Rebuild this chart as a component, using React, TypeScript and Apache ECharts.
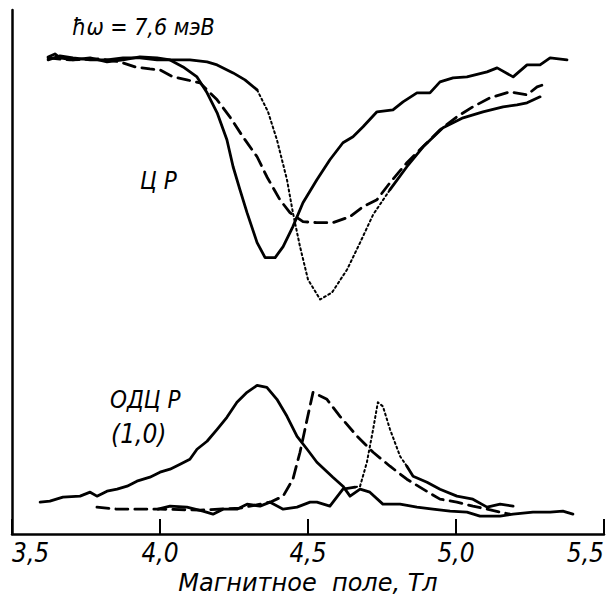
import React, { useEffect, useRef } from "react";
import * as echarts from "echarts";

// x: magnetic field, T ; y: signal, arbitrary units
const xTicks = [3.5, 4.0, 4.5, 5.0, 5.5];

// ---- ЦР (upper group) ----
const crSolid: [number, number][] = [
  [3.622, 95.6], [3.645, 96.2], [3.662, 95.4], [3.706, 95], [3.764, 95.4], [3.821, 94.6],
  [3.875, 95], [3.932, 95.6], [3.99, 95.4], [4.034, 95], [4.078, 93.6], [4.125, 91.6],
  [4.159, 88.4], [4.193, 84.4], [4.226, 79], [4.247, 73.6], [4.27, 69], [4.294, 64.4],
  [4.328, 58.4], [4.355, 55.4], [4.389, 55.4], [4.416, 57.6], [4.449, 61.6], [4.483, 66.4],
  [4.53, 71], [4.574, 75], [4.618, 78.4], [4.652, 79.6], [4.686, 81.6], [4.733, 84.6],
  [4.787, 85], [4.821, 86.6], [4.868, 88.4], [4.912, 88.4], [4.946, 90.6], [4.99, 91.4],
  [5.037, 91.6], [5.105, 92.6], [5.139, 93.4], [5.193, 91.6], [5.24, 94], [5.284, 94],
  [5.318, 95.4], [5.375, 95],
];

const crDashed: [number, number][] = [
  [3.622, 95.4], [3.696, 95], [3.797, 95.2], [3.865, 94.6], [3.916, 93.6], [3.966, 93.2],
  [4.0, 93], [4.044, 91.6], [4.091, 91], [4.135, 90.4], [4.193, 87], [4.236, 83.6],
  [4.28, 79.6], [4.328, 75.6], [4.361, 71.6], [4.405, 67], [4.439, 64.4], [4.483, 62.6],
  [4.53, 62.4], [4.584, 62.4], [4.642, 63.6], [4.686, 65.6], [4.733, 67], [4.777, 70.4],
  [4.834, 74.4], [4.902, 78.4], [4.946, 81], [5.003, 83.6], [5.057, 85.6], [5.115, 87.4],
  [5.182, 88.6], [5.24, 88], [5.274, 89.6], [5.294, 90],
];

const crDotA: [number, number][] = [
  [3.622, 95], [3.662, 95.8], [3.706, 95.4], [3.764, 95], [3.821, 95], [3.875, 95.4],
  [3.932, 95.4], [3.99, 95], [4.057, 95], [4.101, 95], [4.159, 94.6], [4.193, 94],
  [4.247, 92.4], [4.287, 91], [4.328, 89],
];
const crDotB: [number, number][] = [
  [4.328, 89], [4.365, 84.6], [4.395, 79], [4.429, 71], [4.449, 64.4], [4.473, 57.6],
  [4.5, 51], [4.541, 47], [4.581, 48.4], [4.632, 53], [4.676, 58.4], [4.72, 64], [4.777, 69],
];
const crDotC: [number, number][] = [
  [4.777, 69], [4.834, 73.6], [4.889, 77.6], [4.956, 81.4], [5.024, 83.4], [5.091, 84.6],
  [5.159, 85.6], [5.206, 86], [5.24, 86.4], [5.284, 87.6],
];

// ---- ОДЦР (1,0) (lower group) ----
const odSolid: [number, number][] = [
  [3.595, 6.4], [3.628, 6.6], [3.672, 7.4], [3.73, 7.6], [3.764, 8.4], [3.787, 7.6],
  [3.821, 8.6], [3.855, 9], [3.889, 9.6], [3.922, 10.6], [3.966, 11.4], [4.0, 12.4],
  [4.034, 13], [4.068, 14], [4.101, 15], [4.125, 17], [4.159, 18.6], [4.193, 21],
  [4.226, 23.4], [4.26, 26.4], [4.294, 28.4], [4.328, 29.8], [4.361, 29.4], [4.395, 27],
  [4.429, 23.6], [4.463, 19.6], [4.497, 17], [4.53, 14.4], [4.584, 11.4], [4.618, 9.6],
  [4.642, 7.6], [4.676, 9], [4.709, 8.4], [4.753, 6], [4.811, 6], [4.868, 5.4],
  [4.922, 5], [4.98, 4.6], [5.037, 4.4], [5.081, 3.6], [5.149, 3.6], [5.193, 4],
  [5.26, 4.4], [5.318, 4.4], [5.361, 4.6], [5.395, 4],
];

const odDashed: [number, number][] = [
  [3.787, 5.4], [3.855, 5], [3.922, 5], [4.0, 5], [4.135, 4.8], [4.27, 5.2],
  [4.372, 6.4], [4.416, 7.6], [4.449, 11], [4.473, 16.4], [4.497, 23], [4.517, 28.4],
  [4.564, 27], [4.608, 23.6], [4.666, 19.6], [4.72, 16.4], [4.777, 13.6], [4.834, 11],
  [4.889, 9], [4.946, 7], [5.003, 6.4], [5.057, 5.6], [5.105, 5], [5.149, 4.4], [5.182, 4],
];

const odDotA: [number, number][] = [
  [3.993, 5], [4.034, 5.6], [4.091, 5.4], [4.145, 4.6], [4.179, 4], [4.213, 5],
  [4.26, 5], [4.294, 6], [4.338, 5.6], [4.372, 6.4], [4.416, 5], [4.463, 5.4],
  [4.507, 6.4], [4.53, 6.4], [4.574, 5.6], [4.618, 9], [4.659, 9.4],
];
const odDotB: [number, number][] = [
  [4.659, 9.4], [4.676, 9.6], [4.699, 14.4], [4.72, 21], [4.736, 26.4], [4.753, 25.6],
  [4.777, 21], [4.811, 15.6], [4.834, 13.6],
];
const odDotC: [number, number][] = [
  [4.834, 13.6], [4.855, 11.6], [4.902, 10.4], [4.946, 9], [5.003, 7.6], [5.057, 7],
  [5.105, 5.4], [5.149, 6], [5.193, 5.6],
];

const FONT = '"Liberation Sans Narrow", "DejaVu Sans Condensed", "Liberation Sans", sans-serif';
const WIDE = '"DejaVu Sans", "Liberation Sans", sans-serif';

function line(data: [number, number][], kind: "solid" | "dashed" | "dotted") {
  return {
    type: "line" as const,
    data,
    showSymbol: false,
    silent: true,
    lineStyle: {
      color: "#000",
      width: kind === "dotted" ? 2 : 2.8,
      type: kind === "solid" ? "solid" : kind === "dashed" ? [12, 7] : [2, 3],
      cap: "round" as const,
      join: "round" as const,
    },
  };
}

export default function App() {
  const ref = useRef<HTMLDivElement>(null);
  useEffect(() => {
    if (!ref.current) return;
    const chart = echarts.init(ref.current, null, { renderer: "svg" });
    chart.setOption({
      animation: false,
      backgroundColor: "#fff",
      grid: { left: 12, right: 12, top: 10, bottom: 65 },
      xAxis: {
        type: "value",
        min: xTicks[0],
        max: xTicks[xTicks.length - 1],
        interval: 0.5,
        name: "Магнитное  поле, Тл",
        nameLocation: "middle",
        nameGap: 32,
        nameTextStyle: { fontFamily: WIDE, fontStyle: "italic", fontSize: 24, color: "#000" },
        axisLine: { show: true, lineStyle: { color: "#000", width: 2.5 } },
        axisTick: { show: true, inside: true, length: 15, lineStyle: { color: "#000", width: 2 } },
        axisLabel: {
          color: "#000",
          fontFamily: FONT,
          fontStyle: "italic",
          fontSize: 26,
          margin: 6,
          alignMinLabel: "left",
          alignMaxLabel: "right",
          formatter: (v: number) => v.toFixed(1).replace(".", ","),
        },
        splitLine: { show: false },
      },
      yAxis: {
        type: "value",
        min: 0,
        max: 105,
        axisLine: { show: true, lineStyle: { color: "#000", width: 2.5 } },
        axisTick: { show: false },
        axisLabel: { show: false },
        splitLine: { show: false },
      },
      graphic: [
        {
          type: "text",
          x: 72,
          y: 27,
          style: { text: "ħω = 7,6 мэВ", fontFamily: FONT, fontStyle: "italic", fontSize: 23, fill: "#000", verticalAlign: "middle" },
        },
        {
          type: "text",
          x: 140,
          y: 181,
          style: { text: "Ц Р", fontFamily: FONT, fontStyle: "italic", fontSize: 24, fill: "#000", verticalAlign: "middle" },
        },
        {
          type: "text",
          x: 110,
          y: 400,
          style: { text: "ОДЦ Р", fontFamily: FONT, fontStyle: "italic", fontSize: 24, fill: "#000", verticalAlign: "middle" },
        },
        {
          type: "text",
          x: 111,
          y: 434,
          style: { text: "(1,0)", fontFamily: FONT, fontStyle: "italic", fontSize: 26, fill: "#000", verticalAlign: "middle" },
        },
      ],
      series: [
        line(crSolid, "solid"),
        line(crDashed, "dashed"),
        line(crDotA, "solid"),
        line(crDotB, "dotted"),
        line(crDotC, "solid"),
        line(odSolid, "solid"),
        line(odDashed, "dashed"),
        line(odDotA, "solid"),
        line(odDotB, "dotted"),
        line(odDotC, "solid"),
      ],
    });
    return () => chart.dispose();
  }, []);
  return <div ref={ref} style={{ position: "fixed", left: 0, top: 0, width: 616, height: 600 }} />;
}
